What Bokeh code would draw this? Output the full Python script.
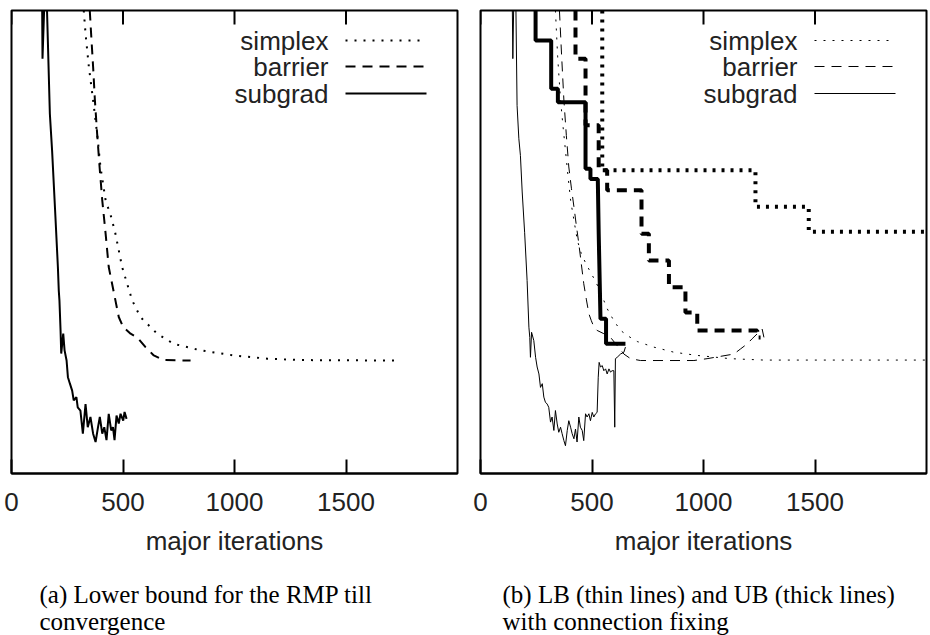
import math
from bokeh.plotting import figure
from bokeh.models import Range1d, FixedTicker, Label, Arrow
from bokeh.layouts import row, column
from bokeh.embed import file_html
from bokeh.resources import INLINE

# ---------------- data ----------------
X_TICKS = [0, 500, 1000, 1500]
X_TICK_LABELS = ["0", "500", "1000", "1500"]
X_LABEL = "major iterations"
LEGEND_NAMES = ["simplex", "barrier", "subgrad"]
CAPTION_A = ["(a) Lower bound for the RMP till", "convergence"]
CAPTION_B = ["(b) LB (thin lines) and UB (thick lines)", "with connection fixing"]
X_MAX = 2000
Y_MAX = 100

# panel (a): lower bound of the RMP
simplex_a_x = [324, 332, 347, 366, 384, 399, 422, 447, 466, 496, 541, 578, 653, 728, 848, 997, 1147, 1296, 1722]
simplex_a_y = [100, 95.0, 87.8, 80.6, 73.4, 66.2, 59.0, 55.4, 51.8, 44.6, 37.4, 33.8, 30.2, 28.0, 26.6, 25.5, 24.8, 24.5, 24.4]

barrier_a_x = [351, 357, 366, 374, 384, 395, 407, 422, 436, 466, 481, 501, 534, 564, 601, 638, 683, 803]
barrier_a_y = [100, 95.0, 87.8, 80.6, 73.4, 66.2, 59.0, 51.8, 44.6, 37.4, 33.8, 31.6, 30.2, 29.4, 27.3, 25.5, 24.5, 24.4]

subgrad_a_x = [137, 139, 149, 157, 172, 182, 197, 208, 212, 215, 220, 223, 232, 238, 247, 253, 262, 272, 279, 291,
               297, 309, 320, 332, 342, 354, 366, 377, 388, 396, 407, 416, 426, 436, 447, 455, 462, 471, 481, 489,
               501, 507, 516]
subgrad_a_y = [104, 89.6, 104, 104, 77.7, 69.8, 55.4, 44.6, 39.5, 37.4, 30.9, 25.9, 30.2, 26.6, 24.4, 20.8, 19.4, 17.9, 15.8, 16.5,
               14.3, 13.6, 8.6, 15.0, 10.0, 12.2, 8.6, 6.8, 10.0, 12.2, 8.6, 10.0, 7.2, 12.9, 9.3, 10.0, 7.2, 12.5, 10.8, 12.9,
               11.4, 13.3, 11.8]

# panel (b): LB (thin) and UB (thick) with connection fixing
simplex_lb_x = [336, 346, 359, 370, 381, 392, 404, 418, 434, 452, 471, 493, 516, 535, 568, 598, 628, 665, 703, 777,
                867, 972, 1121, 1271, 2000]
simplex_lb_y = [100, 90.0, 80.6, 75.0, 69.8, 64.5, 59.0, 55.0, 50.4, 47.5, 45.5, 43.5, 41.5, 39.5, 35.6, 33.0, 30.9, 29.6, 28.5, 27.3,
                26.2, 25.5, 24.8, 24.5, 24.5]

barrier_lb_x = [354, 364, 374, 385, 396, 408, 419, 430, 441, 452, 463, 475, 486, 497, 508, 523, 553, 583, 613, 643,
                673, 717, 957, 1016, 1076, 1136, 1166, 1196, 1218, 1248, 1263, 1271]
barrier_lb_y = [100, 90.0, 80.6, 73.0, 66.2, 61.5, 57.6, 53.5, 49.6, 45.3, 41.0, 37.5, 34.5, 33.0, 31.7, 30.9, 30.2, 29.4, 27.6, 25.8,
                24.8, 24.4, 24.4, 24.8, 25.3, 25.8, 26.9, 28.0, 29.1, 30.5, 31.2, 29.4]

subgrad_lb_x = [142, 145, 150, 158, 164, 172, 179, 187, 198, 209, 217, 221, 224, 229, 239, 247, 254, 262, 269, 277,
                284, 291, 299, 306, 314, 321, 329, 336, 344, 351, 359, 366, 374, 381, 389, 396, 404, 411, 419, 426,
                433, 441, 448, 456, 463, 471, 478, 486, 493, 501, 508, 516, 523, 528, 532, 538, 546, 553, 561, 568,
                576, 583, 590, 598, 602, 605, 613, 628, 643, 650]
subgrad_lb_y = [104, 89.6, 104, 104, 79.5, 72.3, 68.7, 60.8, 52.0, 41.7, 31.6, 29.4, 25.1, 30.5, 28.7, 25.1, 23.0, 21.5, 18.6, 19.4,
                16.5, 15.4, 15.0, 14.3, 11.1, 12.2, 9.3, 13.6, 10.7, 8.9, 10.0, 8.6, 7.1, 6.0, 9.3, 11.4, 10.0, 8.6, 7.5, 9.6,
                6.8, 12.2, 10.0, 9.3, 7.1, 12.9, 12.2, 12.9, 11.4, 13.2, 12.2, 12.9, 13.2, 20.8, 24.0, 23.0, 23.3, 22.2, 22.6, 21.5,
                22.6, 21.9, 22.2, 22.2, 10.0, 24.8, 25.1, 25.8, 26.2, 27.3]

simplex_ub_x = [546, 546, 1233, 1233, 1472, 1472, 2000]
simplex_ub_y = [100, 65.5, 65.5, 57.6, 57.6, 52.2, 52.2]

barrier_ub_x = [426, 426, 471, 471, 530, 530, 568, 568, 722, 722, 755, 755, 845, 845, 919, 919, 972, 972, 1241, 1241, 1256]
barrier_ub_y = [100, 89.6, 89.6, 75.2, 75.2, 65.5, 65.5, 61.2, 61.2, 51.8, 51.8, 46.0, 46.0, 40.2, 40.2, 34.8, 34.8, 30.9, 30.9, 29.4, 29.4]

subgrad_ub_x = [247, 247, 317, 317, 347, 347, 471, 471, 493, 493, 526, 530, 538, 563, 563, 650]
subgrad_ub_y = [100, 93.5, 93.5, 83.1, 83.1, 80.2, 80.2, 65.8, 65.8, 63.6, 63.6, 52.0, 33.4, 33.4, 28.0, 28.0]

# ---------------- styling ----------------
SANS = "Liberation Sans"
SERIF = "Liberation Serif"
TXT = "#222222"
FS = "26px"
FRAME_H = 463
PLOT_H = 575
CAP_H = 60
CAP_ROWS = [41, 14]
DOT_THIN, DASH_THIN = "2 7", "10 7"


def make_panel(frame_w, b_left, b_right, legend_styles):
    p = figure(frame_width=frame_w, frame_height=FRAME_H,
               x_range=Range1d(0, X_MAX), y_range=Range1d(0, Y_MAX),
               output_backend="svg", toolbar_location=None,
               y_axis_location=None,
               min_border_left=b_left, min_border_right=b_right,
               min_border_top=10, min_border_bottom=PLOT_H - 10 - FRAME_H)
    p.grid.visible = False
    p.outline_line_color = "black"
    p.outline_line_width = 2
    p.border_fill_color = "white"
    p.background_fill_color = "white"

    ax = p.xaxis[0]
    ax.ticker = FixedTicker(ticks=X_TICKS)
    ax.major_label_overrides = {t: s for t, s in zip(X_TICKS, X_TICK_LABELS)}
    ax.major_tick_in = 14
    ax.major_tick_out = 0
    ax.major_tick_line_width = 2
    ax.minor_tick_line_color = None
    ax.axis_line_width = 2
    ax.major_label_text_font = SANS
    ax.major_label_text_font_size = FS
    ax.major_label_text_color = TXT
    ax.major_label_text_line_height = 1.0
    ax.major_label_standoff = 19
    ax.axis_label = X_LABEL
    ax.axis_label_text_font = SANS
    ax.axis_label_text_font_size = FS
    ax.axis_label_text_font_style = "normal"
    ax.axis_label_text_color = TXT
    ax.axis_label_text_line_height = 1.0
    ax.axis_label_standoff = 12

    # inward tick marks on the top edge, at the same tick values
    p.ray(x=X_TICKS, y=Y_MAX, length=14, length_units="screen", angle=-math.pi / 2,
          line_color="black", line_width=2)

    # legend: label right-aligned, sample line to its right
    rows_y = [FRAME_H - 30, FRAME_H - 56, FRAME_H - 83]
    for name, ly, (dash, lw) in zip(LEGEND_NAMES, rows_y, legend_styles):
        p.add_layout(Label(x=frame_w - 129, y=ly, x_units="screen", y_units="screen", text=name,
                           text_align="right", text_baseline="middle", text_font=SANS,
                           text_font_size=FS, text_color=TXT))
        p.add_layout(Arrow(x_start=frame_w - 112, y_start=ly, x_end=frame_w - 31, y_end=ly,
                           start_units="screen", end_units="screen", end=None,
                           line_color="black", line_width=lw, line_dash=dash))
    return p


def make_caption(width, caption, cap_x):
    c = figure(width=width, height=CAP_H, x_range=Range1d(0, 1), y_range=Range1d(0, 1),
               output_backend="svg", toolbar_location=None,
               x_axis_location=None, y_axis_location=None,
               min_border_left=0, min_border_right=0, min_border_top=0, min_border_bottom=0)
    c.grid.visible = False
    c.outline_line_color = None
    c.border_fill_color = "white"
    c.background_fill_color = "white"
    for line, ly in zip(caption, CAP_ROWS):
        c.add_layout(Label(x=cap_x, y=ly, x_units="screen", y_units="screen", text=line,
                           text_align="left", text_baseline="middle", text_font=SERIF,
                           text_font_size="25px", text_color="black"))
    return c


# panel (a)
pa = make_panel(446, 11, 11, [(DOT_THIN, 2), (DASH_THIN, 2), ("solid", 2)])
pa.line(simplex_a_x, simplex_a_y, line_color="black", line_width=2, line_dash=DOT_THIN)
pa.line(barrier_a_x, barrier_a_y, line_color="black", line_width=2, line_dash=DASH_THIN)
pa.line(subgrad_a_x, subgrad_a_y, line_color="black", line_width=2)

# panel (b)
pb = make_panel(446, 12, 4, [(DOT_THIN, 1), (DASH_THIN, 1), ("solid", 1)])
pb.line(simplex_lb_x, simplex_lb_y, line_color="black", line_width=1, line_dash=DOT_THIN)
pb.line(barrier_lb_x, barrier_lb_y, line_color="black", line_width=1, line_dash=DASH_THIN)
pb.line(subgrad_lb_x, subgrad_lb_y, line_color="black", line_width=1)
pb.line(simplex_ub_x, simplex_ub_y, line_color="black", line_width=4, line_dash="3 6")
pb.line(barrier_ub_x, barrier_ub_y, line_color="black", line_width=4, line_dash="10 7")
pb.line(subgrad_ub_x, subgrad_ub_y, line_color="black", line_width=4)

ca = make_caption(468, CAPTION_A, 39)
cb = make_caption(462, CAPTION_B, 34)

layout = column(row(pa, pb), row(ca, cb))
open("out.html", "w").write(file_html(layout, INLINE))
